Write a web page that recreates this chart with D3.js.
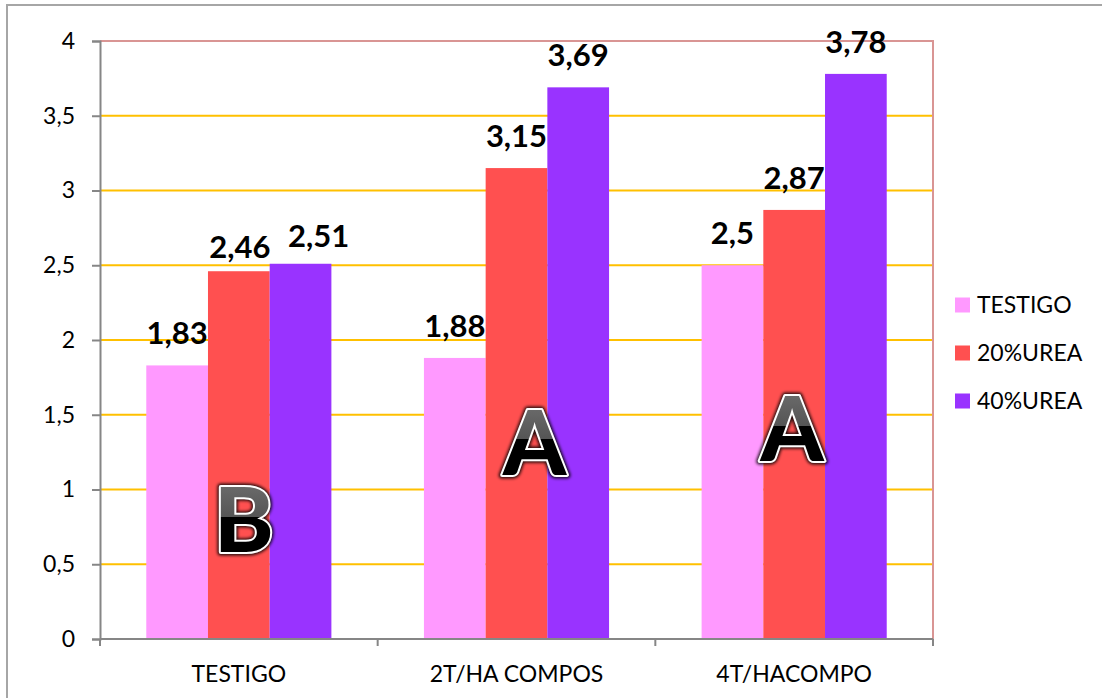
<!DOCTYPE html>
<html>
<head>
<meta charset="utf-8">
<script src="https://cdn.jsdelivr.net/npm/d3@7"></script>
<style>
  html, body { margin: 0; padding: 0; background: #fff; }
  svg { display: block; }
</style>
</head>
<body>
<svg id="chart" width="1102" height="698"></svg>
<script>
// Groups on the x axis and the three treatments
const categories = ["TESTIGO", "2T/HA COMPOS", "4T/HACOMPO"];
const seriesNames = ["TESTIGO", "20%UREA", "40%UREA"];
const seriesColors = ["#ff99ff", "#ff5050", "#9933ff"];

// Values per treatment, one entry per group
const testigo = [1.83, 1.88, 2.5];
const urea20 = [2.46, 3.15, 2.87];
const urea40 = [2.51, 3.69, 3.78];
const seriesValues = [testigo, urea20, urea40];

// Y axis ticks and their labels (comma decimals)
const yTicks = [0, 0.5, 1, 1.5, 2, 2.5, 3, 3.5, 4];
const yTickLabels = ["0", "0,5", "1", "1,5", "2", "2,5", "3", "3,5", "4"];

// Significance letters per group and the level they sit at
const groupLetters = ["B", "A", "A"];
const letterLevels = [0.58, 1.10, 1.19];

const svg = d3.select("#chart");
const W = 1102, H = 698;
const plot = { left: 100, right: 933, top: 41, bottom: 639 };
const FONT = "Lato, 'Open Sans', sans-serif";
const fmt = v => String(v).replace(".", ",");

// Outer frame (only its top and left edges fall inside the view)
svg.append("path")
  .attr("d", `M7,${H} L7,5 L${W},5`)
  .attr("fill", "none")
  .attr("stroke", "#a6a6a6")
  .attr("stroke-width", 2);

const x0 = d3.scaleBand().domain(categories).range([plot.left, plot.right]).paddingInner(0).paddingOuter(0);
const x1 = d3.scaleBand().domain(seriesNames).range([0, x0.bandwidth()]).paddingInner(0).paddingOuter(0.75);
const y = d3.scaleLinear().domain([0, 4]).range([plot.bottom, plot.top]);

// Gridlines
svg.append("g").selectAll("line")
  .data(yTicks.filter(t => t > 0 && t < 4))
  .join("line")
  .attr("x1", plot.left).attr("x2", plot.right)
  .attr("y1", d => y(d)).attr("y2", d => y(d))
  .attr("stroke", "#ffc000").attr("stroke-width", 2);

// Plot area border (top and right)
svg.append("path")
  .attr("d", `M${plot.left},${y(4)} L${plot.right},${y(4)} L${plot.right},${plot.bottom}`)
  .attr("fill", "none").attr("stroke", "#d99594").attr("stroke-width", 2);

// Bars
const rows = [];
categories.forEach((c, i) => {
  seriesNames.forEach((s, j) => rows.push({ cat: c, ser: s, idx: j, value: seriesValues[j][i] }));
});

svg.append("g").selectAll("rect")
  .data(rows)
  .join("rect")
  .attr("x", d => x0(d.cat) + x1(d.ser))
  .attr("y", d => y(d.value))
  .attr("width", x1.bandwidth())
  .attr("height", d => y(0) - y(d.value))
  .attr("fill", d => seriesColors[d.idx]);

// Y axis
const yAxis = d3.axisLeft(y)
  .tickValues(yTicks)
  .tickFormat((d, i) => yTickLabels[i])
  .tickSize(8)
  .tickPadding(17);
const gy = svg.append("g").attr("transform", `translate(${plot.left},0)`).call(yAxis);
gy.select(".domain").attr("stroke", "#868686").attr("stroke-width", 2);
gy.selectAll(".tick line").attr("stroke", "#868686").attr("stroke-width", 2);
gy.selectAll(".tick text")
  .attr("font-family", FONT).attr("font-size", 23).attr("fill", "#000");

// X axis: ticks at the group boundaries
const gx = svg.append("g").attr("transform", `translate(0,${plot.bottom})`);
gx.append("line")
  .attr("x1", plot.left).attr("x2", plot.right)
  .attr("stroke", "#868686").attr("stroke-width", 2);
const boundaries = categories.map(c => x0(c)).concat([x0(categories[categories.length - 1]) + x0.bandwidth()]);
gx.selectAll("line.tk")
  .data(boundaries)
  .join("line").attr("class", "tk")
  .attr("x1", d => d).attr("x2", d => d)
  .attr("y1", 0).attr("y2", 7)
  .attr("stroke", "#868686").attr("stroke-width", 2);
gx.selectAll("text")
  .data(categories)
  .join("text")
  .attr("x", d => x0(d) + x0.bandwidth() / 2)
  .attr("y", 43)
  .attr("text-anchor", "middle")
  .attr("font-family", FONT).attr("font-size", 23).attr("fill", "#000")
  .text(d => d);

// Value labels above the bars; the two crowded labels of the first group are
// moved apart so they do not run into each other
const labelNudge = {
  "TESTIGO|20%UREA": { dx: 1, lift: 13 },
  "TESTIGO|40%UREA": { dx: 18, lift: 17 }
};
svg.append("g").selectAll("text")
  .data(rows)
  .join("text")
  .attr("x", d => x0(d.cat) + x1(d.ser) + x1.bandwidth() / 2 + ((labelNudge[d.cat + "|" + d.ser] || {}).dx || 0))
  .attr("y", d => y(d.value) - ((labelNudge[d.cat + "|" + d.ser] || {}).lift || 21))
  .attr("text-anchor", "middle")
  .attr("font-family", FONT).attr("font-weight", 700).attr("font-size", 31)
  .attr("fill", "#000")
  .text(d => fmt(d.value));

// Significance letters: dark/grey split fill, white outline, soft dark halo
const defs = svg.append("defs");
defs.append("filter").attr("id", "halo")
  .attr("x", "-20%").attr("y", "-20%").attr("width", "140%").attr("height", "140%")
  .append("feGaussianBlur").attr("stdDeviation", 1.6);

const letterDx = [5, 18, -2];
const capH = 67;
groupLetters.forEach((L, i) => {
  const cx = x0(categories[i]) + x0.bandwidth() / 2 + letterDx[i];
  const by = y(letterLevels[i]);
  const gid = "lf" + i;
  const grad = defs.append("linearGradient").attr("id", gid)
    .attr("gradientUnits", "userSpaceOnUse")
    .attr("x1", 0).attr("x2", 0).attr("y1", by - capH).attr("y2", by);
  grad.append("stop").attr("offset", 0).attr("stop-color", "#6a6a6a");
  grad.append("stop").attr("offset", 0.47).attr("stop-color", "#555555");
  grad.append("stop").attr("offset", 0.47).attr("stop-color", "#000000");
  grad.append("stop").attr("offset", 1).attr("stop-color", "#000000");
  const g = svg.append("g");
  g.append("text")
    .attr("x", cx).attr("y", by)
    .attr("text-anchor", "middle")
    .attr("font-family", FONT).attr("font-weight", 900).attr("font-size", 90)
    .attr("fill", "none").attr("stroke", "#000").attr("stroke-opacity", 0.85)
    .attr("stroke-width", 7).attr("stroke-linejoin", "round")
    .attr("filter", "url(#halo)")
    .text(L);
  g.append("text")
    .attr("x", cx).attr("y", by)
    .attr("text-anchor", "middle")
    .attr("font-family", FONT).attr("font-weight", 900).attr("font-size", 90)
    .attr("fill", `url(#${gid})`)
    .attr("stroke", "#fff").attr("stroke-width", 4).attr("stroke-linejoin", "round")
    .attr("paint-order", "stroke")
    .text(L);
});

// Legend
const legend = svg.append("g").attr("transform", "translate(955,0)");
const legendY = [305, 353, 401];
seriesNames.forEach((s, j) => {
  legend.append("rect")
    .attr("x", 0).attr("y", legendY[j] - 7.5)
    .attr("width", 15).attr("height", 15)
    .attr("fill", seriesColors[j]);
  legend.append("text")
    .attr("x", 22).attr("y", legendY[j])
    .attr("dy", "0.35em")
    .attr("font-family", FONT).attr("font-size", 23).attr("fill", "#000")
    .text(s);
});
</script>
</body>
</html>
